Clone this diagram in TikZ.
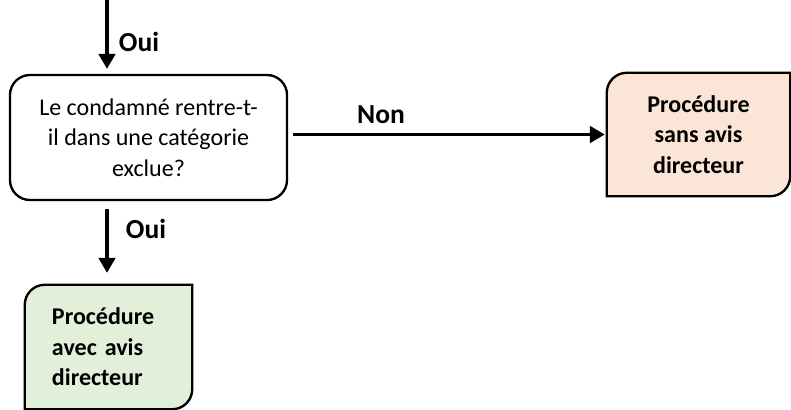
\documentclass[tikz,border=0pt]{standalone}
\usepackage{fontspec}
\setmainfont{Carlito}
\usetikzlibrary{arrows.meta,backgrounds}
\definecolor{peche}{HTML}{FBE5D6}
\definecolor{vert}{HTML}{E2F0D9}
\begin{document}
\begin{tikzpicture}[x=0.03cm,y=-0.03cm,
  font=\fontsize{20.5}{26}\selectfont,
  fleche/.style={line width=2.6pt,-{Triangle[length=0.45cm,width=0.5cm]}},
  question/.style={draw,line width=2pt,rounded corners=0.6cm,align=center,
    minimum width=8.31cm,minimum height=3.75cm},
  issue/.style={align=center,font=\fontsize{20.5}{26}\selectfont\bfseries,inner sep=0pt},
  etiquette/.style={font=\fontsize{23.5}{28}\selectfont\bfseries,inner sep=0pt}]
\useasboundingbox (0,0) rectangle (791,409);
% question
\node[question] (q) at (148.5,137.5) {Le condamné rentre-t-\\il dans une catégorie\\exclue?};
% issues
\node[issue,minimum width=5.49cm,minimum height=3.69cm] (s) at (698.5,134.5) {Procédure\\sans avis\\directeur};
\node[issue,align=left,text width=3.39cm,inner xsep=0.81cm,minimum height=3.72cm] (a) at (108.5,347) {Procédure\\\mbox{avec avis}\\directeur};
\begin{scope}[on background layer,x=1cm,y=1cm]
\draw[line width=2pt,fill=peche] (s.south west) -- ([yshift=-0.6cm]s.north west)
  arc[start angle=180,end angle=90,radius=0.6cm] -- (s.north east)
  -- ([yshift=0.6cm]s.south east) arc[start angle=0,end angle=-90,radius=0.6cm] -- cycle;
\draw[line width=2pt,fill=vert] (a.south west) -- ([yshift=-0.6cm]a.north west)
  arc[start angle=180,end angle=90,radius=0.6cm] -- (a.north east)
  -- ([yshift=0.6cm]a.south east) arc[start angle=0,end angle=-90,radius=0.6cm] -- cycle;
\end{scope}
\coordinate (entree) at (107,0);
\draw[fleche,shorten >=0.15cm] (entree) -- (entree |- q.north);
\draw[fleche,shorten <=0.15cm,shorten >=0.06cm] (q.east |- s.west) -- (s.west);
\draw[fleche,shorten <=0.24cm,shorten >=0.36cm] (q.south -| entree) -- (entree |- a.north);
\node[etiquette] (oui1) at (139,42) {Oui};
\node[etiquette] (non) at (381,115) {Non};
\node[etiquette] (oui2) at (146,229) {Oui};
\end{tikzpicture}
\end{document}
